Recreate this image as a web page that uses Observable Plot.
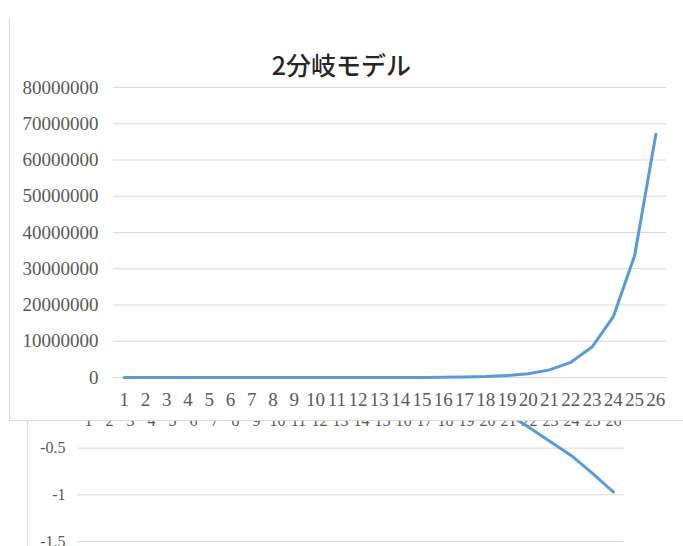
<!DOCTYPE html>
<html>
<head>
<meta charset="utf-8">
<script src="https://cdn.jsdelivr.net/npm/d3@7"></script>
<script src="https://cdn.jsdelivr.net/npm/@observablehq/plot@0.6"></script>
<style>
  html, body { margin: 0; padding: 0; background: #fff; }
  #page { position: relative; width: 683px; height: 546px; overflow: hidden; background: #fff; }
  #back { position: absolute; left: 0; top: 0; }
  #back-frame { position: absolute; left: 27px; top: 405px; width: 0; height: 141px; border-left: 1px solid #d9d9d9; }
  #front { position: absolute; left: 0; top: 0; width: 683px; height: 421px; background: #fff; }
  #front svg { position: absolute; left: 0; top: 0; }
  #front-frame { position: absolute; left: 9px; top: 18px; width: 674px; height: 402px;
    border-left: 1px solid #d9d9d9; border-bottom: 1px solid #d9d9d9; pointer-events: none; }
  #title { position: absolute; left: 0; top: 52px; width: 683px; text-align: center;
    font: 500 25px/25px "Noto Sans CJK JP", sans-serif; color: #262626; }
</style>
</head>
<body>
<div id="page">
  <div id="back"></div>
  <div id="back-frame"></div>
  <div id="front">
    <div id="front-frame"></div>
    <div id="title">2分岐モデル</div>
  </div>
</div>
<script>
// Generation number (x categories)
const categories = [1, 2, 3, 4, 5, 6, 7, 8, 9, 10, 11, 12, 13, 14, 15, 16, 17, 18, 19, 20, 21, 22, 23, 24, 25, 26];

// Count after each branching step
const branchCounts = [2, 4, 8, 16, 32, 64, 128, 256, 512, 1024, 2048, 4096, 8192, 16384, 32768,
  65536, 131072, 262144, 524288, 1048576, 2097152, 4194304, 8388608, 16777216, 33554432, 67108864];

// Series of the chart lying underneath
const lowerValues = [0, 0, 0, 0, 0, 0, 0, 0, 0, 0, 0, 0, 0, 0, 0, 0, 0, 0, 0,
  -0.03, -0.14, -0.28, -0.43, -0.58, -0.77, -0.97];

const mainTicks = [0, 10000000, 20000000, 30000000, 40000000, 50000000, 60000000, 70000000, 80000000];
const lowerTicks = [0, -0.5, -1, -1.5];

const mainRows = categories.map((c, i) => ({c, v: branchCounts[i]}));
const lowerRows = categories.map((c, i) => ({c, v: lowerValues[i]}));

// Chart underneath (only its lower part shows)
const back = Plot.plot({
  width: 683,
  height: 546,
  marginTop: 401,
  marginBottom: 5,
  marginLeft: 77.5,
  marginRight: 59.5,
  style: {fontFamily: "Liberation Serif", fontSize: "16px", color: "#595959", background: "#fff"},
  x: {type: "point", domain: categories, padding: 0.5, round: false, axis: null},
  y: {domain: [-1.5, 0]},
  marks: [
    Plot.gridY(lowerTicks, {stroke: "#d9d9d9", strokeOpacity: 1}),
    Plot.axisY(lowerTicks, {tickSize: 0, tickPadding: 12.5, tickFormat: d => String(d), label: null}),
    Plot.text(categories, {x: d => d, y: () => 0, dy: 19, fill: "#595959", fontSize: 16}),
    Plot.line(lowerRows, {x: "c", y: "v", stroke: "#5b9bd5", strokeWidth: 3})
  ]
});
document.getElementById("back").append(back);

// Main chart: 2分岐モデル
const main = Plot.plot({
  width: 683,
  height: 420,
  marginLeft: 113,
  marginRight: 17,
  marginTop: 87,
  marginBottom: 43,
  style: {fontFamily: "Liberation Serif", fontSize: "19px", color: "#595959", background: "transparent"},
  x: {type: "point", domain: categories, padding: 0.5, round: false},
  y: {domain: [0, 80000000]},
  marks: [
    Plot.gridY(mainTicks, {stroke: "#d9d9d9", strokeOpacity: 1}),
    Plot.axisY(mainTicks, {tickSize: 0, tickPadding: 15, tickFormat: d => String(d), label: null}),
    Plot.axisX(categories, {tickSize: 0, tickPadding: 15, label: null}),
    Plot.line(mainRows, {x: "c", y: "v", stroke: "#5b9bd5", strokeWidth: 3})
  ]
});
document.getElementById("front").prepend(main);
</script>
</body>
</html>
